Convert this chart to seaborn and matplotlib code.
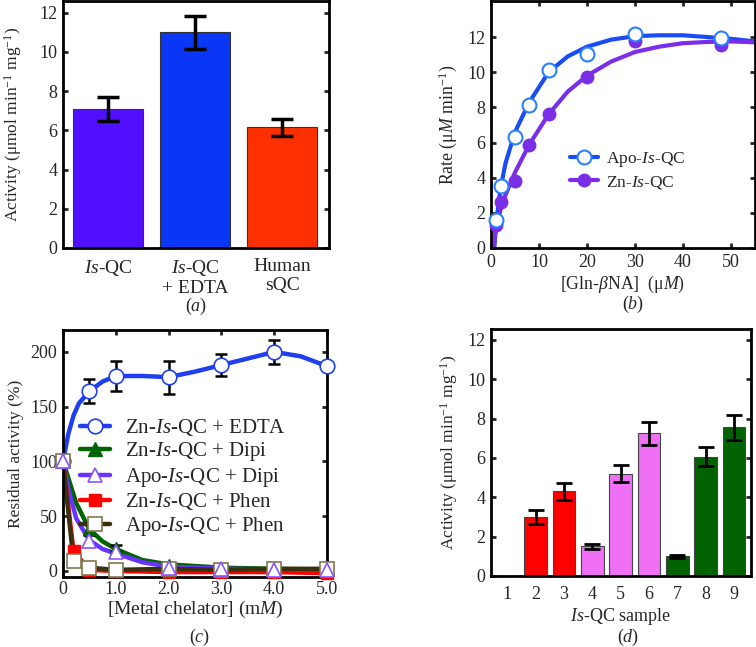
import numpy as np
import pandas as pd
import matplotlib
matplotlib.use('Agg')
import matplotlib.pyplot as plt
import seaborn as sns

# panel (a) - specific activity
a_labels = ['Is-QC', 'Is-QC + EDTA', 'Human sQC']
a_ticklabels = [r'$\mathit{Is}$-QC', r'$\mathit{Is}$-QC' + '\n+ EDTA', 'Human\nsQC']
a_values = [7.1, 11.0, 6.15]
a_errors = [0.6, 0.85, 0.42]
a_colors = ['#5010ff', '#0a36f5', '#ff3000']

# panel (b) - kinetics
b_conc = [1, 2, 5, 8, 12, 20, 30, 48]
b_apo = [1.6, 3.5, 6.3, 8.15, 10.1, 11.05, 12.15, 11.95]
b_zn = [1.3, 2.6, 3.8, 5.85, 7.6, 9.75, 11.75, 11.55]
b_fit_x_apo = [0.7, 1, 2, 3, 5, 8, 12, 16, 20, 25, 30, 35, 40, 45, 50, 55]
b_fit_apo = [0.0, 1.3, 3.4, 4.8, 6.6, 8.3, 10.0, 10.9, 11.45, 11.85, 12.05, 12.1, 12.1, 12.0, 11.9, 11.75]
b_fit_x_zn = [0.5, 1, 2, 3, 5, 8, 12, 16, 20, 25, 30, 35, 40, 45, 50, 55]
b_fit_zn = [0.0, 1.0, 2.2, 3.0, 4.3, 5.9, 7.6, 8.9, 9.8, 10.6, 11.15, 11.45, 11.65, 11.72, 11.75, 11.7]

# panel (c) - metal chelators
c_x = [0, 0.5, 1.0, 2.0, 3.0, 4.0, 5.0]
c_edta = [100, 164, 178, 177, 188, 200, 187]
c_edta_err = [0, 11, 14, 15, 10, 11, 0]
c_edta_line_x = [0, 0.1, 0.2, 0.3, 0.5, 0.75, 1.0, 1.5, 2.0, 2.5, 3.0, 3.5, 4.0, 4.5, 5.0]
c_edta_line = [100, 125, 142, 153, 164, 173, 178, 178, 177, 182, 188, 194, 200, 196, 187]
c_zn_dipi = [100, 38, 21, 5, 2, 1, 0.5]
c_zn_dipi_err = [0, 5, 3, 0, 0, 0, 0]
c_apo_dipi = [100, 27, 17, 3, 1.5, 1, 1]
c_dipi_line_x = [0, 0.1, 0.25, 0.5, 0.75, 1.0, 1.5, 2.0, 3.0, 4.0, 5.0]
c_zn_dipi_line = [100, 85, 62, 38, 27, 20, 10, 6, 3, 2, 1]
c_apo_dipi_line = [100, 75, 48, 28, 20, 16, 8, 4, 2, 1.5, 1]
c_phen_x = [0, 0.2, 0.5, 1.0, 2.0, 3.0, 4.0, 5.0]
c_zn_phen = [100, 18, 1, 0, -1, -1, -1, -2]
c_apo_phen = [100, 9, 3, 1, 2, 1, 2, 2]

# panel (d) - samples
d_samples = ['1', '2', '3', '4', '5', '6', '7', '8', '9']
d_values = [0, 3.0, 4.3, 1.5, 5.2, 7.25, 1.0, 6.05, 7.55]
d_errors = [0, 0.35, 0.45, 0.13, 0.42, 0.6, 0.07, 0.48, 0.65]
d_colors = ['#ff0000', '#ff0000', '#ff0000', '#f070f5', '#f070f5', '#f070f5',
            '#006300', '#006300', '#006300']

sns.set_style('ticks')
plt.rcParams['font.family'] = ['Liberation Serif', 'DejaVu Serif']
plt.rcParams['mathtext.fontset'] = 'custom'
plt.rcParams['mathtext.rm'] = 'Liberation Serif'
plt.rcParams['mathtext.it'] = 'Liberation Serif:italic'
plt.rcParams['font.size'] = 13
plt.rcParams['axes.linewidth'] = 2.0

W, H = 756, 647
fig = plt.figure(figsize=(W / 100, H / 100), dpi=100)


def add_ax(l, t, r, b):
    return fig.add_axes([l / W, 1 - b / H, (r - l) / W, (b - t) / H])


def style(ax, bottom=True):
    ax.tick_params(direction='in', length=3.5, width=2, top=bottom, right=True,
                   bottom=bottom, labelsize=13, pad=4)
    for s in ax.spines.values():
        s.set_visible(True)
        s.set_linewidth(2.0)
        s.set_color('black')


act_label = 'Activity (\u03bcmol min$^{-1}$ mg$^{-1}$)'

# (a)
ax = add_ax(63, 1, 329, 248)
sns.barplot(x=a_labels, y=a_values, hue=a_labels, palette=a_colors, legend=False,
            width=0.8, saturation=1, edgecolor='#333333', linewidth=0.8, ax=ax)
ax.errorbar(range(3), a_values, yerr=a_errors, fmt='none', ecolor='black',
            elinewidth=2.5, capsize=8, capthick=2.5)
ax.set_xticks(range(3))
ax.set_xticklabels(a_ticklabels, linespacing=1.15, fontsize=14)
ax.set_xlim(-0.52, 2.54)
ax.set_ylim(0, 12.6)
ax.set_yticks(range(0, 13, 2))
ax.set_ylabel(act_label, fontsize=12.5)
ax.yaxis.set_label_coords(-0.147, 0.5)
style(ax, bottom=False)
ax.tick_params(axis='x', pad=7, labelsize=14)
fig.text(196 / W, 1 - 306 / H, '($\\mathit{a}$)', ha='center', va='center', fontsize=13)

# (b)
ax = add_ax(491, 1, 755, 248)
sns.lineplot(x=b_fit_x_apo, y=b_fit_apo, color='#1a4cf5', lw=3, ax=ax)
sns.lineplot(x=b_fit_x_zn, y=b_fit_zn, color='#7a2ee8', lw=3, ax=ax)
ax.plot(b_conc, b_zn, 'o', color='#7a2ee8', ms=9, clip_on=False, zorder=3)
ax.plot(b_conc, b_apo, 'o', mfc='white', mec='#2a7fff', mew=1.5, ms=10, clip_on=False, zorder=4)
ax.plot([], [], '-o', color='#1a4cf5', lw=3, mfc='white', mec='#2a7fff', mew=1.5, ms=10,
        label=r'Apo-$\mathit{Is}$-QC')
ax.plot([], [], '-o', color='#7a2ee8', lw=3, ms=9, label=r'Zn-$\mathit{Is}$-QC')
ax.legend(loc='upper left', bbox_to_anchor=(0.30, 0.398), frameon=False, borderpad=0,
          borderaxespad=0, fontsize=12.5, handlelength=1.6, labelspacing=0.3,
          handletextpad=0.45)
ax.set_xlim(0, 55)
ax.set_ylim(0, 14.05)
ax.set_xticks(range(0, 51, 10))
ax.set_yticks(range(0, 13, 2))
ax.set_xlabel('[Gln-$\\mathit{\\beta}$NA]  (\u03bc$\\mathit{M}$)', fontsize=12.8)
ax.xaxis.set_label_coords(0.5, -0.105)
ax.set_ylabel('Rate (\u03bc$\\mathit{M}$ min$^{-1}$)', fontsize=12.8)
ax.yaxis.set_label_coords(-0.12, 0.5)
style(ax)
fig.text(633 / W, 1 - 304 / H, '($\\mathit{b}$)', ha='center', va='center', fontsize=13)

# (c)
ax = add_ax(63, 330, 327, 577)
lw = 3.2
sns.lineplot(x=c_edta_line_x, y=c_edta_line, color='#1f3ff0', lw=lw, ax=ax)
sns.lineplot(x=c_dipi_line_x, y=c_zn_dipi_line, color='#006400', lw=lw, ax=ax)
sns.lineplot(x=c_dipi_line_x, y=c_apo_dipi_line, color='#6633ff', lw=lw, ax=ax)
sns.lineplot(x=c_phen_x, y=c_zn_phen, color='#ff0000', lw=lw, ax=ax)
sns.lineplot(x=c_phen_x, y=c_apo_phen, color='#3a3010', lw=lw, ax=ax)
ax.errorbar(c_x, c_edta, yerr=c_edta_err, fmt='none', ecolor='black', elinewidth=1.8,
            capsize=4.5, capthick=1.8, zorder=2)
ax.errorbar(c_x, c_zn_dipi, yerr=c_zn_dipi_err, fmt='none', ecolor='black', elinewidth=1.8,
            capsize=4.5, capthick=1.8, zorder=2)
mk = dict(clip_on=False, zorder=4, linestyle='none')
ax.plot(c_x, c_edta, 'o', mfc='white', mec='#1f3ff0', mew=1.2, ms=10.5, **mk)
ax.plot(c_x, c_zn_dipi, '^', color='#006400', ms=9, **mk)
ax.plot(c_phen_x, c_zn_phen, 's', color='#ff0000', ms=8, **mk)
ax.plot(c_phen_x, c_apo_phen, 's', mfc='white', mec='#807850', mew=1.2, ms=9.5, **mk)
ax.plot(c_x, c_apo_dipi, '^', mfc='white', mec='#8a55ff', mew=1.2, ms=10.5, **mk)
hk = dict(lw=lw, ms=10.5)
ax.plot([], [], '-o', color='#1f3ff0', mfc='white', mec='#1f3ff0', mew=1.2,
        label=r'Zn-$\mathit{Is}$-QC + EDTA', **hk)
ax.plot([], [], '-^', color='#006400', label=r'Zn-$\mathit{Is}$-QC + Dipi', **hk)
ax.plot([], [], '-^', color='#6633ff', mfc='white', mec='#8a55ff', mew=1.2,
        label=r'Apo-$\mathit{Is}$-QC + Dipi', **hk)
ax.plot([], [], '-s', color='#ff0000', label=r'Zn-$\mathit{Is}$-QC + Phen', lw=lw, ms=9)
ax.plot([], [], '-s', color='#3a3010', mfc='white', mec='#807850', mew=1.2,
        label=r'Apo-$\mathit{Is}$-QC + Phen', lw=lw, ms=9.5)
ax.legend(loc='upper left', bbox_to_anchor=(0.064, 0.648), frameon=False, fontsize=15,
          handlelength=1.45, labelspacing=0.12, handletextpad=0.7, borderaxespad=0,
          borderpad=0)
ax.set_xlim(0, 5.0)
ax.set_ylim(-5.5, 220)
ax.set_xticks([0, 1, 2, 3, 4, 5])
ax.set_xticklabels(['0', '1.0', '2.0', '3.0', '4.0', '5.0'])
ax.set_yticks([0, 50, 100, 150, 200])
ax.set_xlabel('[Metal chelator] (m$\\mathit{M}$)', fontsize=14)
ax.xaxis.set_label_coords(0.5, -0.09)
ax.set_ylabel('Residual activity (%)', fontsize=12.5)
ax.yaxis.set_label_coords(-0.147, 0.5)
style(ax)
ax.tick_params(axis='x', pad=3)
fig.text(200 / W, 1 - 637 / H, '($\\mathit{c}$)', ha='center', va='center', fontsize=13)

# (d)
ax = add_ax(491, 329, 751, 576)
sns.barplot(x=d_samples, y=d_values, hue=d_samples, palette=d_colors, legend=False,
            width=0.8, saturation=1, edgecolor='#444444', linewidth=0.8, ax=ax)
ax.errorbar(range(1, 9), d_values[1:], yerr=d_errors[1:], fmt='none', ecolor='black',
            elinewidth=2, capsize=6, capthick=2)
ax.set_xlim(-0.58, 8.6)
ax.set_ylim(0, 12.55)
ax.set_yticks(range(0, 13, 2))
ax.set_xlabel(r'$\mathit{Is}$-QC sample', fontsize=13)
ax.xaxis.set_label_coords(0.5, -0.12)
ax.set_ylabel(act_label, fontsize=12.5)
ax.yaxis.set_label_coords(-0.12, 0.5)
style(ax, bottom=False)
ax.tick_params(axis='x', pad=7)
fig.text(628 / W, 1 - 637 / H, '($\\mathit{d}$)', ha='center', va='center', fontsize=13)

fig.savefig('out.png', dpi=100)
